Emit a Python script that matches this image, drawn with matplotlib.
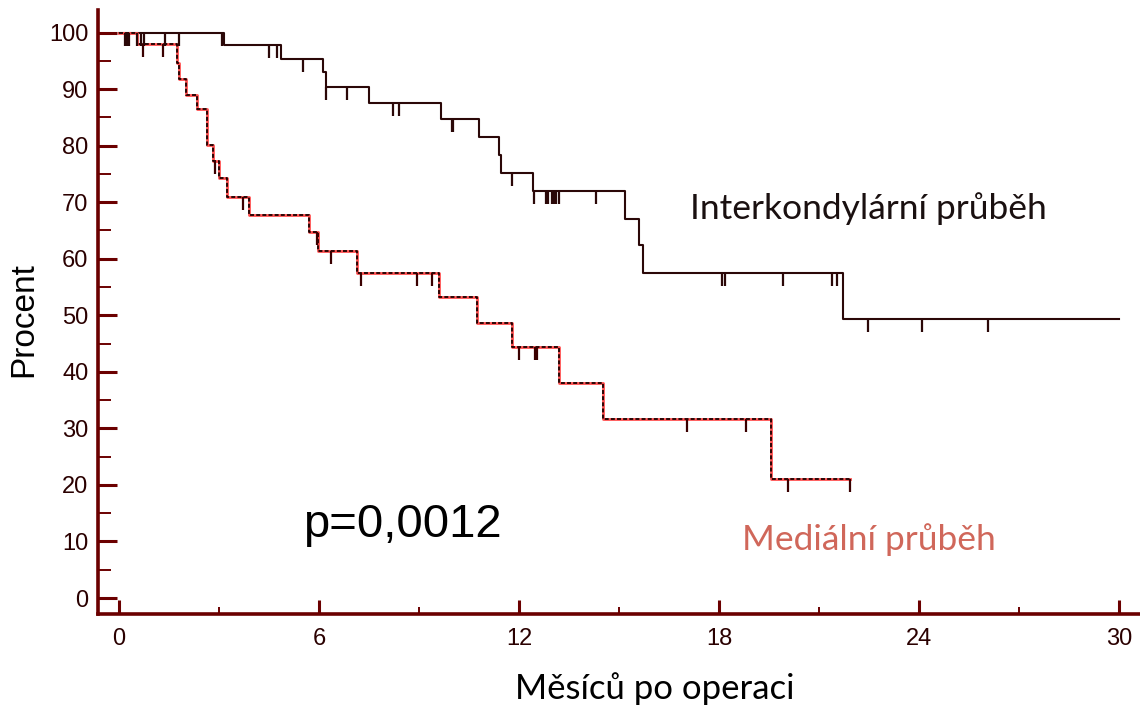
import matplotlib
matplotlib.use("Agg")
import matplotlib.pyplot as plt
import numpy as np
from matplotlib.path import Path
from matplotlib.ticker import MultipleLocator

# Interkondylární průběh - časy poklesů a hodnoty přežití
inter_t = [0, 3.16, 4.86, 6.13, 6.20, 7.50, 9.65, 10.81, 11.41, 11.45, 12.43,
           15.18, 15.61, 15.71, 21.73, 30.0]
inter_s = [100, 97.8, 95.3, 93.0, 90.4, 87.6, 84.7, 81.5, 78.4, 75.2, 72.0,
           67.0, 62.5, 57.5, 49.3, 49.3]
inter_cens = [0.18, 0.24, 0.30, 0.55, 0.65, 0.76, 1.38, 1.80, 3.08, 4.51, 4.73,
              5.53, 6.22, 6.85, 8.23, 8.40, 9.98, 10.02, 11.78, 12.45, 12.80,
              12.88, 13.00, 13.05, 13.10, 13.20, 14.30, 18.08, 18.18, 19.93,
              21.38, 21.55, 22.46, 24.08, 26.06]

# Mediální průběh
med_t = [0, 0.53, 1.75, 1.81, 2.01, 2.35, 2.63, 2.83, 2.99, 3.23, 3.89, 5.71,
         5.98, 7.13, 9.61, 10.75, 11.78, 13.21, 14.53, 19.56, 21.93]
med_s = [100, 97.9, 94.7, 91.8, 89.0, 86.4, 80.2, 77.3, 74.2, 70.9, 67.8, 64.7,
         61.4, 57.4, 53.2, 48.7, 44.4, 38.0, 31.6, 21.0, 21.0]
med_cens = [0.73, 1.31, 2.88, 3.71, 5.95, 6.36, 7.26, 8.95, 9.38, 12.00, 12.48,
            12.53, 17.05, 18.80, 20.06, 21.93]

x_ticks = [0, 6, 12, 18, 24, 30]
y_ticks = [0, 10, 20, 30, 40, 50, 60, 70, 80, 90, 100]

AXIS_COL = "#6b0000"
DARK = "#2b0808"
RED = "#ff5050"


def step_value(times, surv, t):
    # hodnota schodovité funkce v čase t
    idx = np.searchsorted(times, t, side="right") - 1
    return np.array(surv)[idx]


# svislá čárka visící pod křivkou (cenzurování)
tick_marker = Path([(0, 0), (0, -1)], [Path.MOVETO, Path.LINETO])

fig = plt.figure(figsize=(11.4, 7.2), dpi=100)
ax = fig.add_axes([0.086, 0.1472, 0.914, 0.839])

# interkondylární - plná tmavá čára
ax.step(inter_t, inter_s, where="post", color=DARK, lw=1.5, zorder=3)
ax.plot(inter_cens, step_value(inter_t, inter_s, inter_cens), ls="none",
        marker=tick_marker, ms=18, mew=1.6, mec=DARK, zorder=4)

# mediální - červená čára s černými čárkami
ax.step(med_t, med_s, where="post", color=RED, lw=2.0, zorder=3)
ax.step(med_t, med_s, where="post", color="#1a0000", lw=1.3,
        dashes=(2.2, 1.2), zorder=3.5)
ax.plot(med_cens, step_value(med_t, med_s, med_cens), ls="none",
        marker=tick_marker, ms=18, mew=1.6, mec="#3a0000", zorder=4)

ax.set_xlim(-0.63, 30.63)
ax.set_ylim(-2.83, 104.0)

for side in ["top", "right"]:
    ax.spines[side].set_visible(False)
for side in ["left", "bottom"]:
    ax.spines[side].set_color(AXIS_COL)
    ax.spines[side].set_linewidth(2.6)

ax.set_xticks(x_ticks)
ax.set_yticks(y_ticks)
ax.xaxis.set_minor_locator(MultipleLocator(3))
ax.yaxis.set_minor_locator(MultipleLocator(5))
ax.tick_params(which="both", direction="in", color=AXIS_COL)
ax.tick_params(which="major", width=2.2, labelsize=17, labelcolor="#2a0000")
ax.tick_params(which="minor", width=1.4)
ax.tick_params(axis="x", which="major", length=10, pad=10)
ax.tick_params(axis="x", which="minor", length=5)
ax.tick_params(axis="y", which="major", length=13.5, pad=7)
ax.tick_params(axis="y", which="minor", length=9)
for lab in ax.get_xticklabels() + ax.get_yticklabels():
    lab.set_family("Liberation Sans")

ax.set_ylabel("Procent", fontsize=24, family="Liberation Sans")
ax.set_xlabel("Měsíců po operaci", fontsize=25, family="Lato")
ax.yaxis.set_label_coords(-0.056, 0.487)
ax.xaxis.set_label_coords(0.534, -0.097)

fig.text(0.605, 0.711, "Interkondylární průběh", fontsize=25.5, family="Lato",
         color="#1a1010", va="center", ha="left")
fig.text(0.651, 0.25, "Mediální průběh", fontsize=25.5, family="Lato",
         color="#d0675a", va="center", ha="left")
fig.text(0.266, 0.271, "p=0,0012", fontsize=34, family="Liberation Sans",
         color="black", va="center", ha="left")

fig.savefig("out.png", dpi=100)
